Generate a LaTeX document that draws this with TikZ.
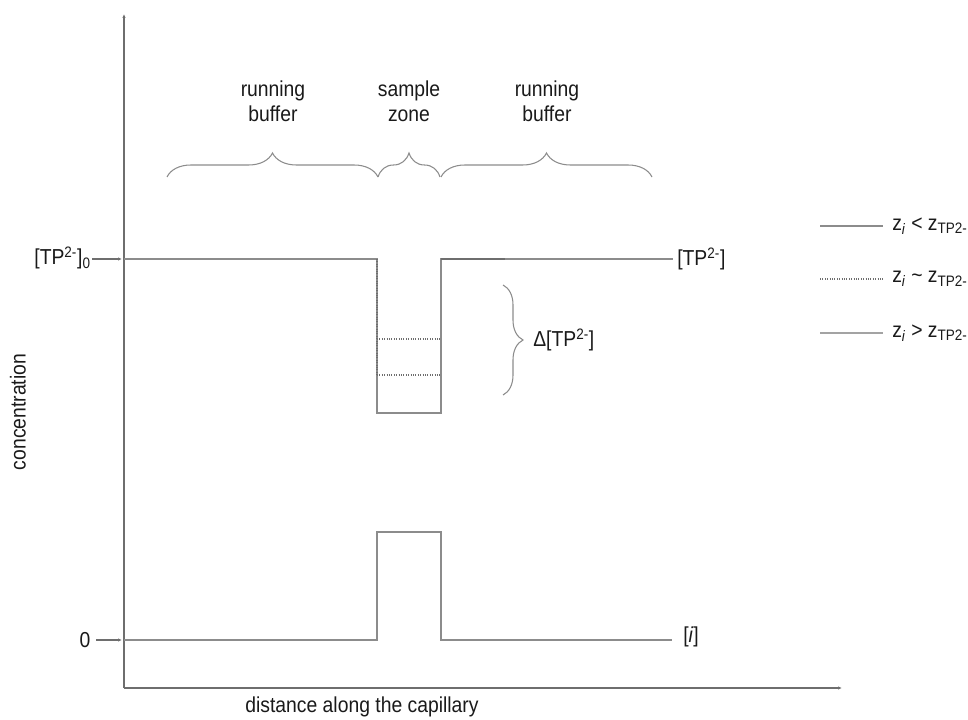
\documentclass[tikz,border=0pt]{standalone}
\usepackage{fontspec}
\setmainfont{Liberation Sans}
\usetikzlibrary{arrows.meta,decorations.pathreplacing}
\definecolor{ln}{HTML}{8C8C8C}
\definecolor{lndark}{HTML}{6E6E6E}
\definecolor{tx}{HTML}{1A1A1A}
\newcommand\tallt[1]{\scalebox{1}[1.12]{#1}}
\begin{document}
\begin{tikzpicture}[x=0.75pt,y=-0.75pt,
  lab/.style={text=tx,font=\fontsize{14.5}{18.75}\selectfont,inner sep=0pt},
  curve/.style={draw=ln,line width=0.8pt},
  dotcurve/.style={draw=lndark,line width=0.8pt,densely dotted},
  ax/.style={draw=lndark,line width=1.1pt},
  tipped/.style={-{Latex[length=3pt,width=2.6pt]}},
  brc/.style={draw=ln,line width=0.8pt,decorate,decoration={brace,amplitude=#1}},
]
\useasboundingbox (0,0) rectangle (968,720);
% axes
\coordinate (O) at (124,688);
\coordinate (ytop) at (124,14);
\coordinate (xend) at (842,688);
\draw[ax,tipped] (O) -- (ytop);
\draw[ax,tipped] (O) -- (xend);
% axis labels
\node[lab,rotate=90] (ylab) at (18,412) {\tallt{concentration}};
\node[lab] (xlab) at (362,707) {\tallt{distance along the capillary}};
% level labels
\node[lab,anchor=east] (tp0) at (91,258) {\tallt{[TP\textsuperscript{2-}]\textsubscript{0}}};
\node[lab] (zero) at (85,640) {\tallt{0}};
\coordinate (tpax) at (122,259);
\coordinate (zeroax) at (122,640);
\draw[draw=lndark,line width=0.8pt,tipped] (92,259) -- (tpax);
\draw[draw=lndark,line width=0.8pt,tipped] (96,640) -- (zeroax);
% TP profile
\draw[curve] (124,259) -- (377,259) -- (377,413) -- (441,413) -- (441,259) -- (673,259);
\draw[dotcurve] (377,259) -- (377,375);
\draw[dotcurve] (377,339) -- (441,339);
\draw[dotcurve] (377,375) -- (441,375);
\draw[draw=lndark,line width=1.4pt] (441,259) -- (505,259);
\node[lab,anchor=west] (tp) at (677,259) {\tallt{[TP\textsuperscript{2-}]}};
% analyte profile
\draw[curve] (124,640) -- (377,640) -- (377,532) -- (441,532) -- (441,640) -- (672,640);
\node[lab,anchor=west] (ilab) at (683,637) {\tallt{[\textit{i}]}};
% delta brace
\draw[brc=15pt] (503,285) -- (503,395);
\node[lab,anchor=west] (dlab) at (533,340) {\tallt{Δ[TP\textsuperscript{2-}]}};
% zone braces
\draw[brc=18pt] (167,177) -- (378,177);
\draw[brc=18pt] (378,177) -- (440,177);
\draw[brc=18pt] (441,177) -- (652,177);
\node[lab,align=center] (rb1) at (273,101) {\tallt{running}\\\tallt{buffer}};
\node[lab,align=center] (sz) at (409,101) {\tallt{sample}\\\tallt{zone}};
\node[lab,align=center] (rb2) at (547,101) {\tallt{running}\\\tallt{buffer}};
% legend
\draw[curve] (820,226) -- (883,226);
\draw[dotcurve] (820,279) -- (883,279);
\draw[draw=ln!80,line width=1.1pt] (820,333) -- (883,333);
\node[lab,anchor=west] (lg1) at (892,226) {\tallt{z\textsubscript{\textit{i}} < z\textsubscript{TP2-}}};
\node[lab,anchor=west] (lg2) at (892,279) {\tallt{z\textsubscript{\textit{i}} \textasciitilde{} z\textsubscript{TP2-}}};
\node[lab,anchor=west] (lg3) at (892,333) {\tallt{z\textsubscript{\textit{i}} > z\textsubscript{TP2-}}};
\end{tikzpicture}
\end{document}
